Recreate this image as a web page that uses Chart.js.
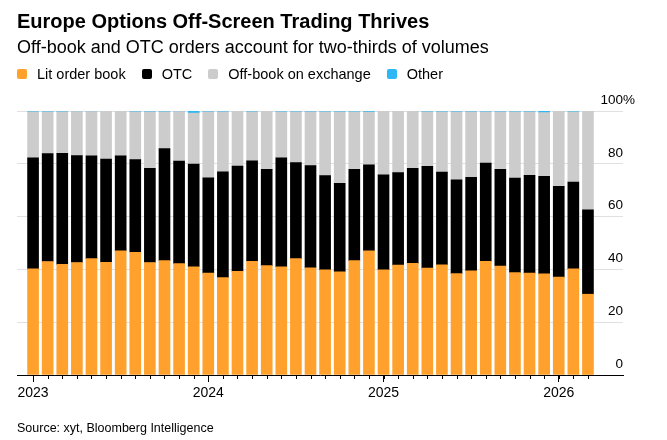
<!DOCTYPE html>
<html>
<head>
<meta charset="utf-8">
<script src="https://cdn.jsdelivr.net/npm/chart.js@4.4.1/dist/chart.umd.min.js"></script>
<style>
  html, body { margin: 0; padding: 0; background: #fff; }
  body { width: 667px; height: 440px; position: relative; overflow: hidden;
         font-family: "Liberation Sans", Arial, sans-serif; color: #000; }
  #chart { position: absolute; left: 0; top: 0; }
  .txt { position: absolute; left: 17px; white-space: nowrap; line-height: 1; }
  #title { top: 11px; font-size: 20px; font-weight: bold; }
  #subtitle { top: 38px; font-size: 18px; }
  #source { top: 422px; font-size: 12.5px; }
  #legend { position: absolute; left: 17px; top: 67px; display: flex; align-items: center;
            font-size: 14.5px; line-height: 1; white-space: nowrap; }
  #legend .item { display: flex; align-items: center; margin-right: 16px; }
  #legend .sw { width: 10px; height: 10px; border-radius: 2px; margin-right: 10px; }
</style>
</head>
<body>
<canvas id="chart" width="667" height="440"></canvas>
<div class="txt" id="title">Europe Options Off-Screen Trading Thrives</div>
<div class="txt" id="subtitle">Off-book and OTC orders account for two-thirds of volumes</div>
<div id="legend"></div>
<div class="txt" id="source">Source: xyt, Bloomberg Intelligence</div>
<script>
// monthly, Jan 2023 - Mar 2026
const months = [
  '2023-01','2023-02','2023-03','2023-04','2023-05','2023-06','2023-07','2023-08','2023-09','2023-10','2023-11','2023-12',
  '2024-01','2024-02','2024-03','2024-04','2024-05','2024-06','2024-07','2024-08','2024-09','2024-10','2024-11','2024-12',
  '2025-01','2025-02','2025-03','2025-04','2025-05','2025-06','2025-07','2025-08','2025-09','2025-10','2025-11','2025-12',
  '2026-01','2026-02','2026-03'
];

// shares of volume, %
const litOrderBook = [
  40.2, 43.0, 41.9, 42.6, 44.1, 42.7, 47.0, 46.5, 42.6, 43.3, 42.2, 41.0,
  38.6, 36.9, 39.3, 43.1, 41.4, 41.0, 44.1, 40.6, 39.8, 39.1, 43.3, 47.0,
  39.8, 41.6, 42.3, 40.5, 41.7, 38.4, 39.5, 43.1, 41.3, 38.8, 38.6, 38.3,
  37.1, 40.2, 30.6
];
const otc = [
  42.1, 40.9, 42.1, 40.5, 38.9, 39.1, 36.0, 35.1, 35.7, 42.5, 38.8, 38.9,
  36.1, 40.1, 39.8, 38.0, 36.5, 41.3, 36.4, 38.7, 35.7, 33.5, 34.6, 32.6,
  36.0, 35.1, 36.0, 38.5, 35.2, 35.5, 35.4, 37.2, 36.6, 35.8, 37.0, 37.0,
  34.4, 32.9, 32.0
];
const offBookOnExchange = [
  17.4, 15.8, 15.7, 16.7, 16.8, 18.1, 16.9, 18.1, 21.4, 13.9, 18.8, 19.3,
  25.0, 22.7, 20.8, 18.6, 22.0, 17.4, 19.2, 20.4, 24.2, 27.1, 21.8, 20.0,
  24.1, 23.2, 21.6, 20.7, 22.8, 25.8, 24.8, 19.4, 21.8, 25.1, 24.1, 24.1,
  28.4, 26.6, 37.3
];
const other = [
  0.3, 0.3, 0.3, 0.2, 0.2, 0.1, 0.1, 0.3, 0.3, 0.3, 0.2, 0.8,
  0.3, 0.3, 0.1, 0.3, 0.1, 0.3, 0.3, 0.3, 0.3, 0.3, 0.3, 0.4,
  0.1, 0.1, 0.1, 0.3, 0.3, 0.3, 0.3, 0.3, 0.3, 0.3, 0.3, 0.6,
  0.1, 0.3, 0.1
];

const seriesNames = ['Lit order book', 'OTC', 'Off-book on exchange', 'Other'];
const seriesColors = ['#ffa12c', '#000000', '#cccccc', '#2db8f5'];
const yearLabels = ['2023', '2024', '2025', '2026'];
const yearTicks = [0, 12, 24, 36];   // index of January in months
const yTicks = [0, 20, 40, 60, 80, 100];

const FONT = '"Liberation Sans", Arial, sans-serif';
const X_MIN = -1.1, X_MAX = 40.4;

// html legend
const legend = document.getElementById('legend');
seriesNames.forEach((name, i) => {
  const item = document.createElement('div');
  item.className = 'item';
  item.innerHTML = '<span class="sw" style="background:' + seriesColors[i] + '"></span>' + name;
  legend.appendChild(item);
});

// y labels sit above the gridlines, "%" hangs to the right; short month ticks under the axis
const axisExtras = {
  id: 'axisExtras',
  afterDraw(chart) {
    const ys = chart.scales.y;
    const xs = chart.scales.x;
    const { right, bottom } = chart.chartArea;
    const ctx = chart.ctx;
    ctx.save();

    ctx.strokeStyle = '#000';
    ctx.lineWidth = 1;
    ctx.beginPath();
    months.forEach((m, i) => {
      const px = Math.round(xs.getPixelForValue(i)) + 0.5;
      ctx.moveTo(px, bottom);
      ctx.lineTo(px, bottom + 4);
    });
    ctx.stroke();

    ctx.font = '13.5px ' + FONT;
    ctx.fillStyle = '#000';
    ctx.textBaseline = 'middle';
    yTicks.forEach(v => {
      const py = ys.getPixelForValue(v) - 11;
      ctx.textAlign = 'right';
      ctx.fillText(String(v), right, py);
      if (v === 100) {
        ctx.textAlign = 'left';
        ctx.fillText('%', right, py);
      }
    });
    ctx.restore();
  }
};

const series = [litOrderBook, otc, offBookOnExchange, other];

new Chart(document.getElementById('chart'), {
  type: 'bar',
  data: {
    datasets: series.map((vals, i) => ({
      label: seriesNames[i],
      data: vals.map((v, j) => ({ x: j, y: v })),
      backgroundColor: seriesColors[i],
      borderWidth: 0,
      barThickness: 11
    }))
  },
  options: {
    responsive: false,
    animation: false,
    events: [],
    layout: { padding: { left: 17, right: 44, top: 111, bottom: 40 } },
    plugins: { legend: { display: false }, tooltip: { enabled: false } },
    scales: {
      x: {
        type: 'linear',
        stacked: true,
        offset: false,
        min: X_MIN,
        max: X_MAX,
        z: 1,
        border: { display: true, color: '#000', width: 1 },
        grid: { offset: false, drawOnChartArea: false, tickLength: 7, color: '#000' },
        ticks: {
          autoSkip: false,
          maxRotation: 0,
          padding: 3,
          color: '#000',
          font: { size: 14, family: FONT },
          callback: v => yearLabels[yearTicks.indexOf(v)] || ''
        },
        afterBuildTicks: s => { s.ticks = yearTicks.map(v => ({ value: v })); },
        afterFit: s => { s.height = 25; }
      },
      y: {
        stacked: true,
        min: 0,
        max: 100,
        position: 'right',
        border: { display: false },
        grid: { color: '#e0e0e0', drawTicks: false },
        ticks: { display: false, stepSize: 20 },
        afterFit: s => { s.width = 0; }
      }
    }
  },
  plugins: [axisExtras]
});
</script>
</body>
</html>
